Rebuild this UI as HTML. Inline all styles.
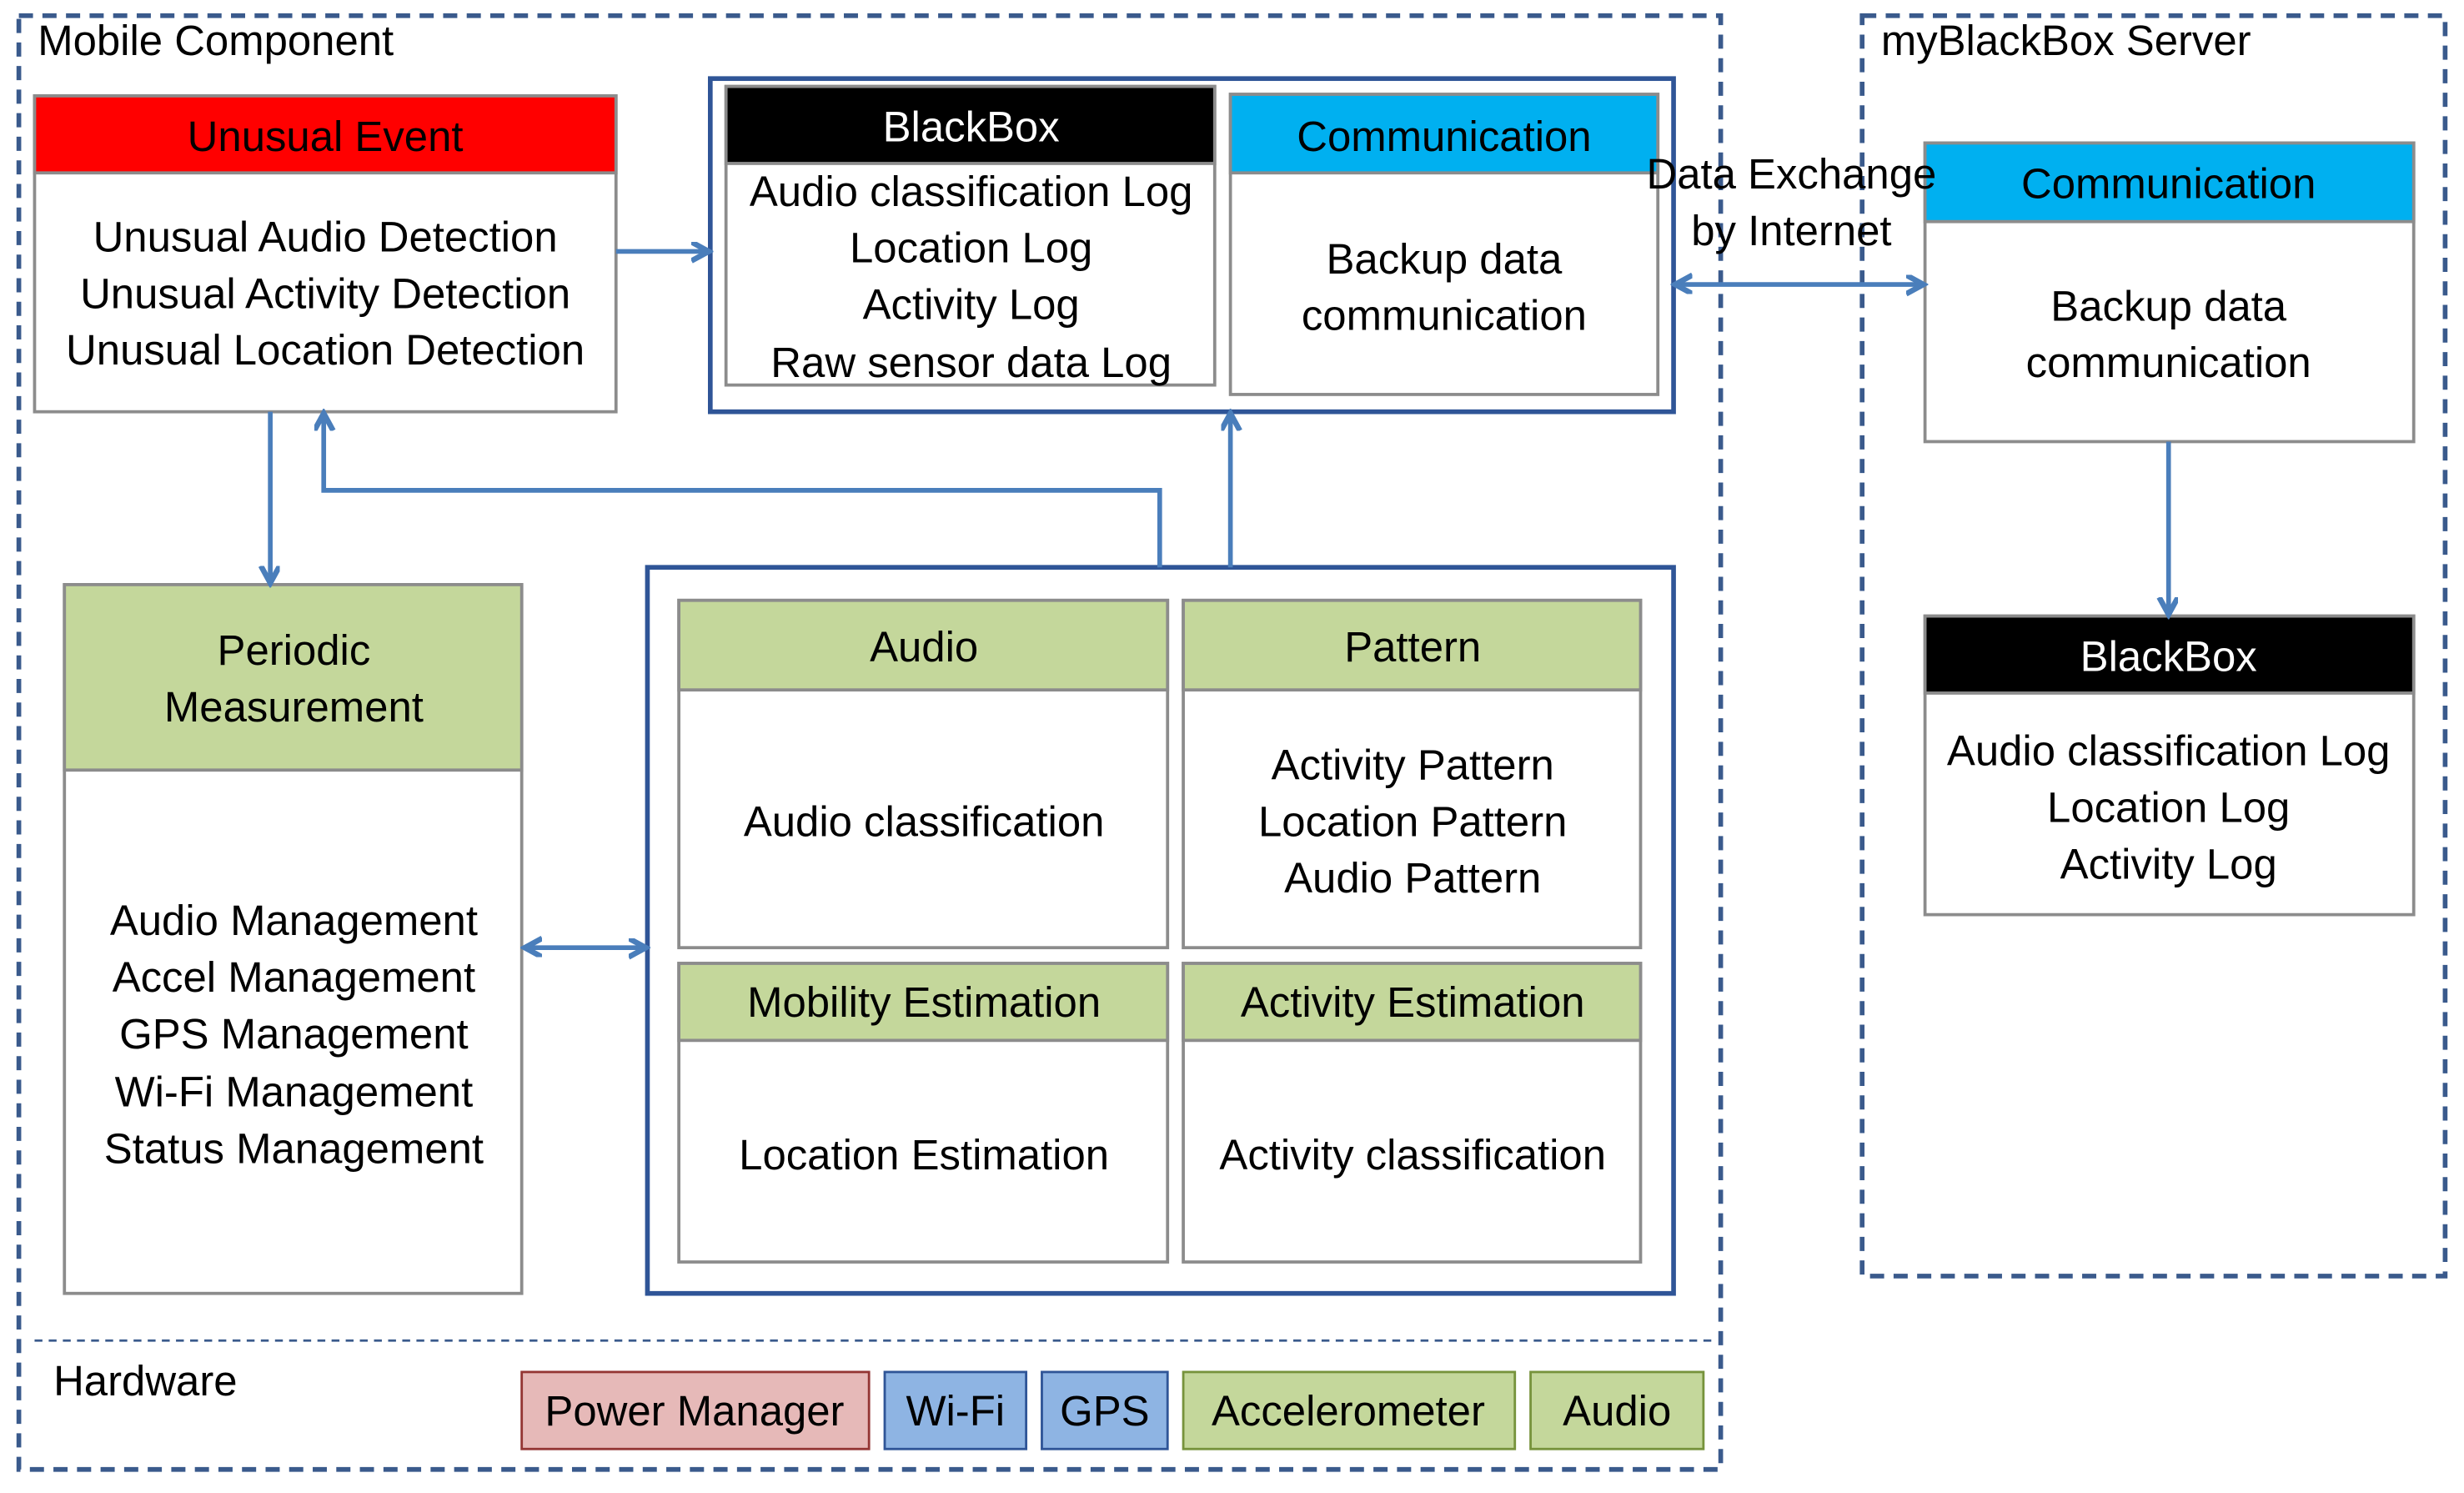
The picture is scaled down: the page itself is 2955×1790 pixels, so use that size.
<!DOCTYPE html>
<html><head><meta charset="utf-8"><style>
html,body{margin:0;padding:0;background:#fff;}
svg{display:block;}
text{font-family:"Liberation Sans",sans-serif;font-size:27px;fill:#000;text-anchor:middle;}
.l{text-anchor:start;}
.w{fill:#fff;}
</style></head><body>
<svg width="2955" height="1790" viewBox="0 0 1568 950" preserveAspectRatio="none" xmlns="http://www.w3.org/2000/svg">
<defs>
<marker id="a" markerWidth="14" markerHeight="14" refX="10" refY="6" orient="auto-start-reverse" markerUnits="userSpaceOnUse">
<path d="M0,0 L11,6 L0,12" fill="none" stroke="#4A7EBB" stroke-width="3.5"/>
</marker>
</defs>
<rect x="12" y="10" width="1083" height="925" fill="none" stroke="#3A5A8C" stroke-width="3" stroke-dasharray="9,6"/>
<line x1="22" y1="853" x2="1090" y2="853" stroke="#3A5A8C" stroke-width="1.5" stroke-dasharray="5,4"/>
<rect x="1185" y="10" width="371" height="802" fill="none" stroke="#3A5A8C" stroke-width="3" stroke-dasharray="9,6"/>
<text class="l" x="24" y="35">Mobile Component</text>
<text class="l" x="1197" y="35">myBlackBox Server</text>
<text class="l" x="34" y="888">Hardware</text>

<g stroke="#8C8C8C" stroke-width="2">
<rect x="22" y="61" width="370" height="201" fill="#fff"/>
<rect x="22" y="61" width="370" height="49" fill="#FF0000"/>
<rect x="452" y="50" width="613" height="212" fill="none" stroke="#2F5597" stroke-width="3"/>
<rect x="462" y="55" width="311" height="190" fill="#fff"/>
<rect x="462" y="55" width="311" height="49" fill="#000"/>
<rect x="783" y="60" width="272" height="191" fill="#fff"/>
<rect x="783" y="60" width="272" height="50" fill="#00B0F0"/>
<rect x="1225" y="91" width="311" height="190" fill="#fff"/>
<rect x="1225" y="91" width="311" height="50" fill="#00B0F0"/>
<rect x="1225" y="392" width="311" height="190" fill="#fff"/>
<rect x="1225" y="392" width="311" height="49" fill="#000"/>
<rect x="41" y="372" width="291" height="451" fill="#fff"/>
<rect x="41" y="372" width="291" height="118" fill="#C4D79B"/>
<rect x="412" y="361" width="653" height="462" fill="none" stroke="#2F5597" stroke-width="3"/>
<rect x="432" y="382" width="311" height="221" fill="#fff"/>
<rect x="432" y="382" width="311" height="57" fill="#C4D79B"/>
<rect x="753" y="382" width="291" height="221" fill="#fff"/>
<rect x="753" y="382" width="291" height="57" fill="#C4D79B"/>
<rect x="432" y="613" width="311" height="190" fill="#fff"/>
<rect x="432" y="613" width="311" height="49" fill="#C4D79B"/>
<rect x="753" y="613" width="291" height="190" fill="#fff"/>
<rect x="753" y="613" width="291" height="49" fill="#C4D79B"/>
</g>
<rect x="332" y="873" width="221" height="49" fill="#E6B9B8" stroke="#943634" stroke-width="1.5"/>
<rect x="563" y="873" width="90" height="49" fill="#8EB4E3" stroke="#2F5597" stroke-width="1.5"/>
<rect x="663" y="873" width="80" height="49" fill="#8EB4E3" stroke="#2F5597" stroke-width="1.5"/>
<rect x="753" y="873" width="211" height="49" fill="#C4D79B" stroke="#77933C" stroke-width="1.5"/>
<rect x="974" y="873" width="110" height="49" fill="#C4D79B" stroke="#77933C" stroke-width="1.5"/>
<text x="442" y="907">Power Manager</text>
<text x="608" y="907">Wi-Fi</text>
<text x="703" y="907">GPS</text>
<text x="858" y="907">Accelerometer</text>
<text x="1029" y="907">Audio</text>

<g stroke="#4A7EBB" stroke-width="3" fill="none">
<line x1="392" y1="160" x2="450" y2="160" marker-end="url(#a)"/>
<line x1="172" y1="262" x2="172" y2="370" marker-end="url(#a)"/>
<polyline points="738,361 738,312 206,312 206,264" marker-end="url(#a)"/>
<line x1="783" y1="361" x2="783" y2="264" marker-end="url(#a)"/>
<line x1="335" y1="603" x2="410" y2="603" marker-start="url(#a)" marker-end="url(#a)"/>
<line x1="1067" y1="181" x2="1223" y2="181" marker-start="url(#a)" marker-end="url(#a)"/>
<line x1="1380" y1="281" x2="1380" y2="390" marker-end="url(#a)"/>
</g>

<text x="207" y="96">Unusual Event</text>
<text x="207" y="160">Unusual Audio Detection</text>
<text x="207" y="196">Unusual Activity Detection</text>
<text x="207" y="232">Unusual Location Detection</text>

<text class="w" x="618" y="90">BlackBox</text>
<text x="618" y="131">Audio classification Log</text>
<text x="618" y="167">Location Log</text>
<text x="618" y="203">Activity Log</text>
<text x="618" y="240">Raw sensor data Log</text>

<text x="919" y="96">Communication</text>
<text x="919" y="174">Backup data</text>
<text x="919" y="210">communication</text>

<text x="1140" y="120">Data Exchange</text>
<text x="1140" y="156">by Internet</text>

<text x="1380" y="126">Communication</text>
<text x="1380" y="204">Backup data</text>
<text x="1380" y="240">communication</text>

<text class="w" x="1380" y="427">BlackBox</text>
<text x="1380" y="487">Audio classification Log</text>
<text x="1380" y="523">Location Log</text>
<text x="1380" y="559">Activity Log</text>

<text x="187" y="423">Periodic</text>
<text x="187" y="459">Measurement</text>
<text x="187" y="595">Audio Management</text>
<text x="187" y="631">Accel Management</text>
<text x="187" y="667">GPS Management</text>
<text x="187" y="704">Wi-Fi Management</text>
<text x="187" y="740">Status Management</text>

<text x="588" y="421">Audio</text>
<text x="588" y="532">Audio classification</text>
<text x="899" y="421">Pattern</text>
<text x="899" y="496">Activity Pattern</text>
<text x="899" y="532">Location Pattern</text>
<text x="899" y="568">Audio Pattern</text>

<text x="588" y="647">Mobility Estimation</text>
<text x="588" y="744">Location Estimation</text>
<text x="899" y="647">Activity Estimation</text>
<text x="899" y="744">Activity classification</text>
</svg>
</body></html>
